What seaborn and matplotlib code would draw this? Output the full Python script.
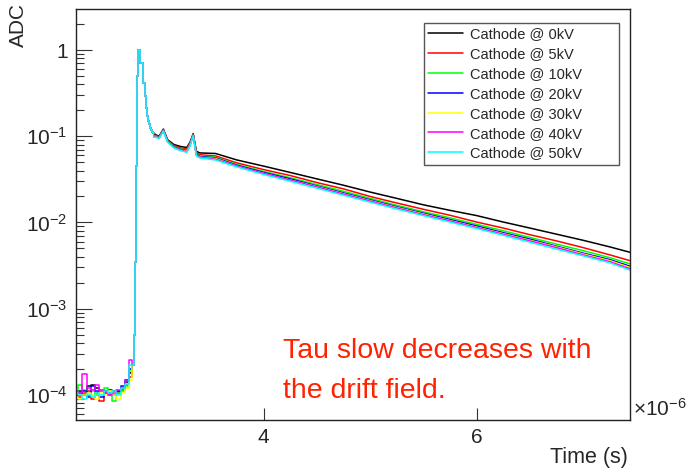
import numpy as np
import pandas as pd
import matplotlib
matplotlib.use("Agg")
import matplotlib.pyplot as plt
from matplotlib.lines import Line2D
import seaborn as sns

# ---------------------------------------------------------------------
# Data (time in microseconds, ADC normalised)
# ---------------------------------------------------------------------
SERIES = ["Cathode @ 0kV", "Cathode @ 5kV", "Cathode @ 10kV", "Cathode @ 20kV",
          "Cathode @ 30kV", "Cathode @ 40kV", "Cathode @ 50kV"]
COLORS = ["#000000", "#ff0000", "#00ff00", "#0000ff", "#ffff00", "#ff00ff", "#00ffff"]

# pre-trigger baseline (units of 1e-4)
BASE_T = [2.24, 2.28, 2.32, 2.36, 2.40, 2.44, 2.48, 2.52, 2.56, 2.60, 2.64, 2.68, 2.72, 2.76]
BASE_0KV = [1.05, 1.10, 1.00, 1.25, 1.30, 1.20, 1.15, 1.10, 1.15, 1.10, 1.10, 1.20, 1.40, 1.80]
BASE_5KV = [1.00, 0.95, 1.05, 1.10, 0.90, 1.05, 0.85, 1.05, 1.00, 1.10, 1.05, 1.15, 1.30, 1.60]
BASE_10KV = [1.10, 1.30, 1.15, 1.05, 1.10, 1.00, 1.15, 1.20, 1.10, 0.85, 1.05, 1.10, 1.25, 1.90]
BASE_20KV = [1.00, 1.05, 1.10, 0.95, 1.25, 1.10, 0.95, 1.10, 1.05, 1.00, 1.10, 1.25, 1.50, 2.00]
BASE_30KV = [0.95, 0.90, 1.00, 1.05, 1.00, 0.90, 1.05, 1.00, 1.10, 1.00, 0.90, 1.05, 1.20, 1.50]
BASE_40KV = [1.10, 1.05, 1.75, 1.20, 1.15, 1.30, 1.10, 1.05, 1.00, 1.05, 1.15, 1.20, 1.45, 2.50]
BASE_50KV = [1.05, 1.00, 0.90, 1.00, 0.95, 1.05, 1.00, 1.10, 1.05, 1.10, 1.00, 1.20, 1.35, 2.20]

# rise and fast peak (all curves overlap here)
PEAK_T = [2.78, 2.79, 2.80, 2.81, 2.82, 2.83, 2.84, 2.85, 2.86, 2.87,
          2.88, 2.89, 2.90, 2.91, 2.92, 2.93, 2.94, 2.95, 2.96, 2.97]
PEAK_V = [2.2e-4, 5e-4, 3.5e-3, 0.045, 0.5, 1.0, 1.0, 0.70, 0.70, 0.41,
          0.41, 0.29, 0.21, 0.17, 0.15, 0.14, 0.125, 0.118, 0.112, 0.108]

# slow component
TAIL_T = [2.98, 3.02, 3.06, 3.10, 3.16, 3.22, 3.28, 3.31, 3.34, 3.37, 3.40, 3.55, 3.75, 4.0,
          4.25, 4.5, 4.75, 5.0, 5.25, 5.5, 5.75, 6.0, 6.25, 6.5, 6.75, 7.0, 7.25, 7.44]
TAIL_0KV = [0.105, 0.100, 0.121, 0.091, 0.080, 0.076, 0.074, 0.085, 0.107, 0.067, 0.064, 0.063, 0.053, 0.045,
            0.038, 0.032, 0.027, 0.0225, 0.019, 0.016, 0.0138, 0.012, 0.0101, 0.0086, 0.0073, 0.0062, 0.0052, 0.0045]
TAIL_5KV = [0.103, 0.098, 0.119, 0.089, 0.078, 0.073, 0.071, 0.083, 0.105, 0.064, 0.061, 0.059, 0.049, 0.041,
            0.035, 0.029, 0.0245, 0.020, 0.0168, 0.0142, 0.0121, 0.0101, 0.0086, 0.0072, 0.0061, 0.0051, 0.0042, 0.0036]
TAIL_10KV = [0.102, 0.097, 0.118, 0.088, 0.076, 0.071, 0.069, 0.081, 0.104, 0.062, 0.059, 0.057, 0.047, 0.039,
             0.033, 0.0275, 0.023, 0.019, 0.0158, 0.0133, 0.0113, 0.0095, 0.0080, 0.0067, 0.0056, 0.0047, 0.0039, 0.0033]
TAIL_20KV = [0.101, 0.096, 0.117, 0.087, 0.075, 0.070, 0.068, 0.080, 0.103, 0.061, 0.058, 0.056, 0.046, 0.038,
             0.032, 0.0265, 0.022, 0.0183, 0.0152, 0.0128, 0.0108, 0.0091, 0.0076, 0.0064, 0.0053, 0.0044, 0.0037, 0.0031]
TAIL_30KV = [0.100, 0.095, 0.116, 0.086, 0.074, 0.069, 0.067, 0.079, 0.102, 0.060, 0.057, 0.055, 0.045, 0.037,
             0.031, 0.026, 0.0215, 0.0179, 0.0149, 0.0125, 0.0105, 0.0088, 0.0074, 0.0062, 0.0052, 0.0043, 0.0036, 0.0030]
TAIL_40KV = [0.099, 0.095, 0.116, 0.086, 0.074, 0.069, 0.066, 0.078, 0.102, 0.060, 0.057, 0.054, 0.045, 0.037,
             0.031, 0.0258, 0.0213, 0.0177, 0.0147, 0.0123, 0.0104, 0.0087, 0.0073, 0.0061, 0.0051, 0.0042, 0.0035, 0.0029]
TAIL_50KV = [0.098, 0.094, 0.115, 0.085, 0.073, 0.068, 0.065, 0.077, 0.101, 0.059, 0.056, 0.053, 0.044, 0.036,
             0.030, 0.025, 0.0207, 0.0172, 0.0143, 0.0120, 0.0101, 0.0085, 0.0071, 0.0059, 0.0049, 0.0041, 0.0034, 0.0028]

BASES = [BASE_0KV, BASE_5KV, BASE_10KV, BASE_20KV, BASE_30KV, BASE_40KV, BASE_50KV]
TAILS = [TAIL_0KV, TAIL_5KV, TAIL_10KV, TAIL_20KV, TAIL_30KV, TAIL_40KV, TAIL_50KV]

# ---------------------------------------------------------------------
# Style (ROOT-like canvas)
# ---------------------------------------------------------------------
sns.set_theme(style="ticks")
plt.rcParams['font.family'] = ['Liberation Sans', 'DejaVu Sans']
plt.rcParams['mathtext.fontset'] = 'custom'
plt.rcParams['mathtext.rm'] = 'Liberation Sans'
plt.rcParams['mathtext.it'] = 'Liberation Sans:italic'
plt.rcParams['mathtext.bf'] = 'Liberation Sans:bold'

# long tables: head (drawn as histogram steps) and tail
head_rows, tail_rows = [], []
for name, base, tail in zip(SERIES, BASES, TAILS):
    for t, v in zip(BASE_T, base):
        head_rows.append((name, t, v * 1e-4))
    for t, v in zip(PEAK_T, PEAK_V):
        head_rows.append((name, t, v))
    head_rows.append((name, TAIL_T[0], tail[0]))
    for t, v in zip(TAIL_T, tail):
        tail_rows.append((name, t, v))
head_df = pd.DataFrame(head_rows, columns=["series", "time", "adc"])
tail_df = pd.DataFrame(tail_rows, columns=["series", "time", "adc"])
palette = dict(zip(SERIES, COLORS))

fig = plt.figure(figsize=(6.89, 4.71), dpi=100)
ax = fig.add_axes([76 / 689, 1 - 420 / 471, (630 - 76) / 689, (420 - 9) / 471])

sns.lineplot(data=head_df, x="time", y="adc", hue="series", hue_order=SERIES, palette=palette,
             estimator=None, sort=False, drawstyle="steps-mid", linewidth=1.1, legend=False, ax=ax)
sns.lineplot(data=tail_df, x="time", y="adc", hue="series", hue_order=SERIES, palette=palette,
             estimator=None, sort=False, linewidth=1.1, legend=False, ax=ax)

ax.set_yscale("log")
ax.set_xlim(2.24, 7.44)
ax.set_ylim(5.1e-5, 2.99)
ax.set_xlabel("")
ax.set_ylabel("")

ax.set_xticks([4, 6])
ax.set_xticklabels(["4", "6"])
ax.xaxis.set_minor_locator(matplotlib.ticker.NullLocator())
ax.set_yticks([1e-4, 1e-3, 1e-2, 1e-1, 1])
ax.set_yticklabels([r"$10^{-4}$", r"$10^{-3}$", r"$10^{-2}$", r"$10^{-1}$", "1"])
ax.yaxis.set_minor_locator(matplotlib.ticker.LogLocator(base=10, subs=np.arange(2, 10), numticks=20))
ax.yaxis.set_minor_formatter(matplotlib.ticker.NullFormatter())

ax.tick_params(axis="both", which="both", direction="in", labelsize=15, color="#333333", width=0.8)
ax.tick_params(axis="y", which="major", length=11.5, pad=6)
ax.tick_params(axis="y", which="minor", length=5.8)
ax.tick_params(axis="x", which="major", length=8.6, pad=6)
for side in ax.spines.values():
    side.set_color("#222222")
    side.set_linewidth(1)

fig.text(18 / 689, 1 - 3 / 471, "ADC", rotation=90, ha="center", va="top", fontsize=15)
fig.text(628 / 689, 1 - 458 / 471, "Time (s)", ha="right", va="center", fontsize=15.5)
fig.text(633 / 689, 1 - 420 / 471, r"$\times10^{-6}$", ha="left", va="bottom", fontsize=15)

fig.text(283 / 689, 1 - 358 / 471, "Tau slow decreases with", color="#ff2200", fontsize=20.5, va="baseline")
fig.text(283 / 689, 1 - 398 / 471, "the drift field.", color="#ff2200", fontsize=20.5, va="baseline")

handles = [Line2D([0], [0], color=c, linewidth=1.1) for c in COLORS]
leg = ax.legend(handles, SERIES, loc="upper left",
                bbox_to_anchor=(424 / 689, 1 - 163 / 471, 195 / 689, 140 / 471),
                bbox_transform=fig.transFigure, mode="expand", borderaxespad=0, fontsize=10.5,
                frameon=True, fancybox=False, framealpha=1, edgecolor="#555555", handlelength=2.4,
                handletextpad=0.45, labelspacing=0.40, borderpad=0.3)
leg.get_frame().set_linewidth(1)

fig.savefig("out.png", dpi=100)
